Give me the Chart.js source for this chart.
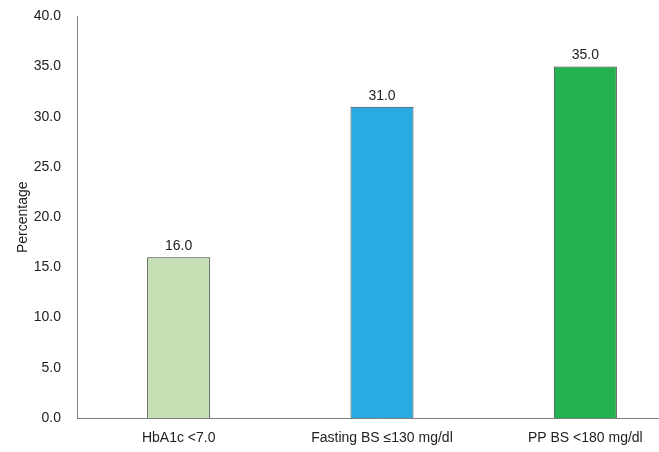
<!DOCTYPE html>
<html>
<head>
<meta charset="utf-8">
<script src="https://cdn.jsdelivr.net/npm/chart.js@4/dist/chart.umd.min.js"></script>
<style>
  html, body { margin: 0; padding: 0; background: #fff; overflow: hidden; }
  #wrap { width: 659px; height: 452px; overflow: hidden; position: relative; }
  #box { width: 690px; height: 460px; position: absolute; left: 0; top: -8px; }
</style>
</head>
<body>
<div id="wrap"><div id="box"><canvas id="c"></canvas></div></div>
<script>
// Glycaemic control targets achieved (%)
const categories = ['HbA1c <7.0', 'Fasting BS \u2264130 mg/dl', 'PP BS <180 mg/dl'];
const percentages = [16.0, 31.0, 35.0];
const barColors = ['#c5e0b4', '#29abe2', '#23b04e'];
const yTicks = [0, 5, 10, 15, 20, 25, 30, 35, 40];

const FONT = 'Liberation Sans, Arial, sans-serif';

// Writes each bar's value just above it
const valueLabels = {
  id: 'valueLabels',
  afterDatasetsDraw(chart) {
    const ctx = chart.ctx;
    const meta = chart.getDatasetMeta(0);
    ctx.save();
    ctx.font = '14px ' + FONT;
    ctx.fillStyle = '#222';
    ctx.textAlign = 'center';
    ctx.textBaseline = 'bottom';
    meta.data.forEach((bar, i) => {
      ctx.fillText(percentages[i].toFixed(1), bar.x, bar.y - 4);
    });
    ctx.restore();
  }
};

new Chart(document.getElementById('c'), {
  type: 'bar',
  data: {
    labels: categories,
    datasets: [{
      data: percentages,
      backgroundColor: barColors,
      borderColor: '#3f3f3f',
      borderWidth: 1,
      categoryPercentage: 1,
      barPercentage: 0.31
    }]
  },
  options: {
    responsive: true,
    maintainAspectRatio: false,
    animation: false,
    layout: { padding: { top: 0, right: 3, bottom: 0, left: 0 } },
    plugins: { legend: { display: false }, tooltip: { enabled: false } },
    scales: {
      x: {
        afterFit(scale) { scale.height = 34; },
        grid: { display: false, drawTicks: false },
        border: { color: '#7f7f7f', width: 1 },
        ticks: { color: '#222', font: { family: FONT, size: 14 }, padding: 12, maxRotation: 0 }
      },
      y: {
        min: 0,
        max: 40,
        afterBuildTicks(scale) { scale.ticks = yTicks.map(v => ({ value: v })); },
        afterFit(scale) { scale.width = 77; },
        grid: { display: false, drawTicks: false },
        border: { color: '#7f7f7f', width: 1 },
        ticks: {
          color: '#222',
          font: { family: FONT, size: 14 },
          padding: 16,
          callback: v => Number(v).toFixed(1)
        },
        title: {
          display: true,
          text: 'Percentage',
          color: '#222',
          font: { family: FONT, size: 14 },
          padding: { top: 15, bottom: 0 }
        }
      }
    }
  },
  plugins: [valueLabels]
});
</script>
</body>
</html>
